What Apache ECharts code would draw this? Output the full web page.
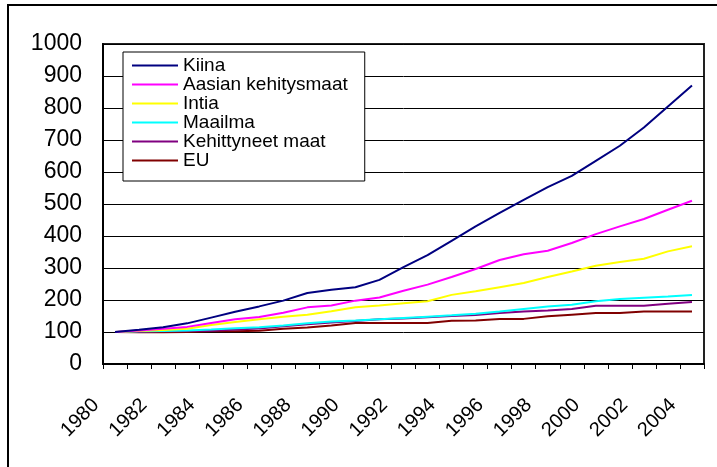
<!DOCTYPE html>
<html>
<head>
<meta charset="utf-8">
<script type="text/javascript" src="https://cdn.jsdelivr.net/npm/echarts@6/dist/echarts.min.js"></script>
<style>
  html, body { margin: 0; padding: 0; background: #fff; }
  #chart { width: 717px; height: 467px; }
</style>
</head>
<body>
<div id="chart"></div>
<script>
// vuodet 1980-2004, indeksi 1980 = 100
var years = ['1980','1981','1982','1983','1984','1985','1986','1987','1988','1989','1990','1991','1992',
             '1993','1994','1995','1996','1997','1998','1999','2000','2001','2002','2003','2004'];
var yTicks = [0, 100, 200, 300, 400, 500, 600, 700, 800, 900, 1000];

var kiina       = [100,107,115,127,145,163,180,198,222,232,240,263,303,340,385,430,472,513,553,588,635,682,739,805,870];
var aasia       = [100,105,110,116,128,140,147,160,177,183,198,208,229,248,272,297,325,343,354,378,406,430,453,482,510];
var intia       = [100,103,106,110,122,131,140,148,154,165,177,183,190,196,216,227,240,253,272,289,307,319,329,352,368];
var maailma     = [100,102,103,105,108,112,115,120,127,133,136,140,144,148,152,157,164,172,180,185,196,203,207,211,216];
var kehittyneet = [100,101,102,103,104,108,111,118,124,130,134,140,142,146,150,153,159,164,167,172,182,182,182,188,194];
var eu          = [100, 99, 99,100,102,102,104,110,114,120,128,128,128,128,135,136,141,141,149,154,159,159,164,164,164];

var names  = ['Kiina','Aasian kehitysmaat','Intia','Maailma','Kehittyneet maat','EU'];
var colors = ['#000080','#ff00ff','#ffff00','#00ffff','#800080','#800000'];
var data   = [kiina, aasia, intia, maailma, kehittyneet, eu];

var font = 'Liberation Sans, Arial, sans-serif';

var series = [];
for (var i = 0; i < names.length; i++) {
  series.push({
    name: names[i],
    type: 'line',
    symbol: 'none',
    data: data[i],
    lineStyle: { color: colors[i], width: 2 },
    itemStyle: { color: colors[i] },
    z: 10 - i
  });
}

var chart = echarts.init(document.getElementById('chart'));
var option = {
  animation: false,
  backgroundColor: '#fff',
  textStyle: { fontFamily: font, color: '#000' },
  graphic: [{
    type: 'rect',
    shape: { x: 8, y: 5, width: 760, height: 520 },
    style: { fill: 'none', stroke: '#000', lineWidth: 2 },
    silent: true
  }],
  grid: {
    left: 103, top: 44, right: 13, bottom: 103,
    show: true, borderColor: '#222', borderWidth: 2
  },
  legend: {
    orient: 'vertical',
    left: 123, top: 52,
    padding: [4, 17, 11, 9],
    icon: 'rect',
    itemWidth: 46, itemHeight: 2, itemGap: 0,
    backgroundColor: '#fff',
    borderColor: '#000', borderWidth: 1,
    textStyle: { fontFamily: font, fontSize: 19, lineHeight: 19, color: '#000' },
    data: names
  },
  xAxis: {
    type: 'category',
    data: years,
    boundaryGap: true,
    axisLine: { lineStyle: { color: '#000', width: 2 } },
    axisTick: { show: true, interval: 0, length: 5, lineStyle: { color: '#000' } },
    axisLabel: {
      interval: 1,
      rotate: 45,
      margin: 19,
      padding: [0, 27, 0, 0],
      fontFamily: font,
      fontSize: 20,
      color: '#000'
    }
  },
  yAxis: {
    type: 'value',
    min: yTicks[0],
    max: yTicks[yTicks.length - 1],
    interval: 100,
    axisLine: { show: true, lineStyle: { color: '#000', width: 2 } },
    axisTick: { show: false },
    splitLine: { lineStyle: { color: '#000', width: 1 } },
    axisLabel: {
      margin: 21, fontFamily: font, fontSize: 23, color: '#000',
      formatter: function (v) { return String(v); }
    }
  },
  series: series
};
chart.setOption(option);
</script>
</body>
</html>
